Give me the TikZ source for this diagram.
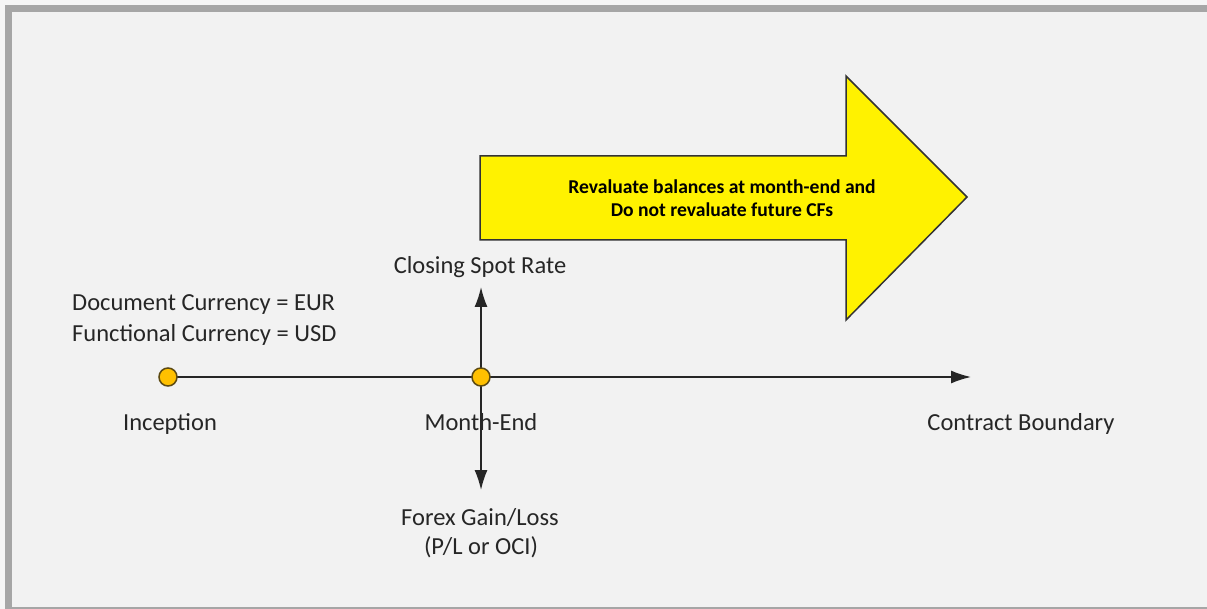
\documentclass[tikz,border=0pt]{standalone}
\usepackage{fontspec}
\setmainfont{Carlito}
\usepackage{xcolor}
\usetikzlibrary{arrows.meta}

\definecolor{framegray}{HTML}{A6A6A6}
\definecolor{bggray}{HTML}{F2F2F2}
\definecolor{dotorange}{HTML}{FFC000}
\definecolor{dotedge}{HTML}{5C4A12}
\definecolor{inkgray}{HTML}{262626}

\tikzset{
  dot/.style={circle,fill=dotorange,draw=dotedge,line width=1.5pt,minimum size=18pt,inner sep=0pt},
  txt/.style={anchor=base,inner sep=0pt,text=inkgray,font=\fontsize{24.5}{30}\selectfont},
  line/.style={draw=black!85,line width=1.6pt},
  tip/.style={-{Latex[length=20pt,width=13pt]}}
}

\begin{document}
\begin{tikzpicture}[x=1pt,y=-1pt]
            \useasboundingbox (0,0) rectangle (1207,609);
            \clip (0,0) rectangle (1207,609);
            \fill[white!96!black] (0,0) rectangle (1207,609);
            \draw[line width=7pt,draw=framegray,fill=bggray] (8.5,8.5) rectangle (1240,610.5);
            % big yellow arrow
            \draw[fill=yellow,draw=black!80,line width=1.5pt,line join=miter]
                (480,156) -- (846,156) -- (846,76) -- (967,197) -- (846,320) -- (846,240) -- (480,240) -- cycle;
            \node[align=center,font=\bfseries\fontsize{19.6}{23.5}\selectfont] (note) at (722,198)
                {Revaluate balances at month-end and\\Do not revaluate future CFs};
            % timeline
            \coordinate (tlend) at (971,377);
            \coordinate (rate) at (481,287);
            \coordinate (gain) at (481,490);
            \draw[line] (168,377) -- (481,377);
            \draw[line,tip] (481,377) -- (tlend);
            \draw[line,tip] (481,377) -- (rate);
            \draw[line,tip] (481,377) -- (gain);
            \node[dot] (inc) at (168,377) {};
            \node[dot] (mend) at (481,377) {};
            % labels
            \node[txt] (ratetxt) at (480,274) {Closing Spot Rate};
            \node[txt,anchor=base west] (doc) at (72,311) {Document Currency = EUR};
            \node[txt,anchor=base west] (func) at (72,342) {Functional Currency = USD};
            \node[txt] (inctxt) at (170,430) {Inception};
            \node[txt] (mendtxt) at (481,430) {Month-End};
            \node[txt] (cbtxt) at (1021,430) {Contract Boundary};
            \node[txt] (fx1) at (480,525) {Forex Gain/Loss};
            \node[txt] (fx2) at (481,554) {(P/L or OCI)};
\end{tikzpicture}
\end{document}
